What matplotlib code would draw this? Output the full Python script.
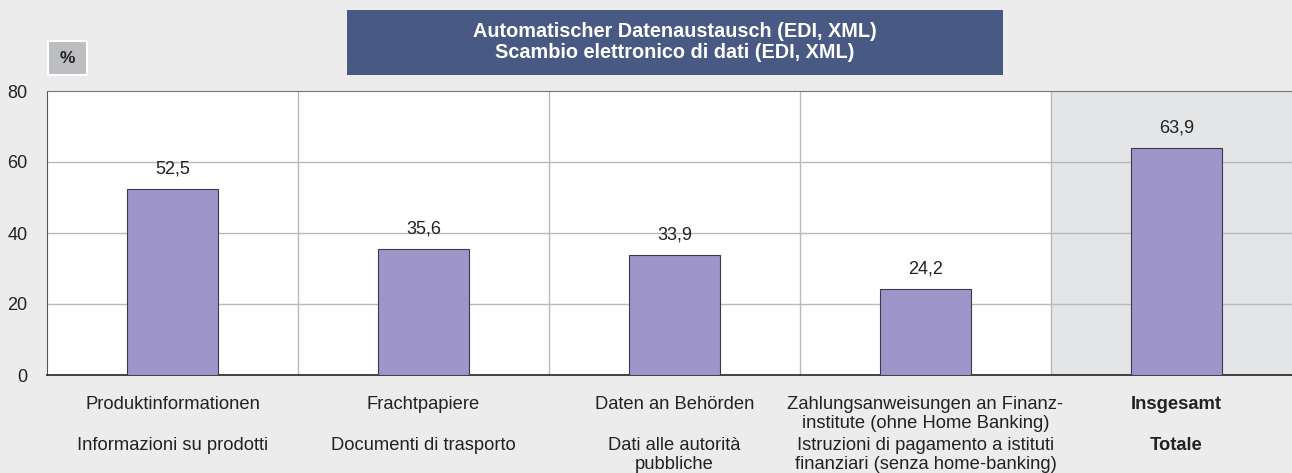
import matplotlib
matplotlib.use("Agg")
import matplotlib.pyplot as plt
from matplotlib.patches import Rectangle
from matplotlib.transforms import blended_transform_factory

plt.rcParams['font.family'] = ['Liberation Sans', 'DejaVu Sans']

labels_de = ["Produktinformationen", "Frachtpapiere", "Daten an Behörden",
             "Zahlungsanweisungen an Finanz-\ninstitute (ohne Home Banking)", "Insgesamt"]
labels_it = ["Informazioni su prodotti", "Documenti di trasporto", "Dati alle autorità\npubbliche",
             "Istruzioni di pagamento a istituti\nfinanziari (senza home-banking)", "Totale"]
values = [52.5, 35.6, 33.9, 24.2, 63.9]
yticks = [0, 20, 40, 60, 80]
title = "Automatischer Datenaustausch (EDI, XML)\nScambio elettronico di dati (EDI, XML)"

W, H = 1292, 473
bg = "#ebeceb"
fig = plt.figure(figsize=(W / 100, H / 100), dpi=100, facecolor=bg)

left, right, top, bottom = 47, 1302, 91, 375
ax = fig.add_axes([left / W, 1 - bottom / H, (right - left) / W, (bottom - top) / H])
ax.set_facecolor("white")
n = len(values)
ax.set_xlim(-0.5, n - 0.5)
ax.set_ylim(0, 80)

# shaded total section
ax.axvspan(n - 1.5, n - 0.5, color="#e4e5e7", zorder=0, lw=0)

for y in yticks[1:-1]:
    ax.axhline(y, color="#b9b9b9", lw=1, zorder=1)
for i in range(1, n):
    ax.axvline(i - 0.5, color="#b9b9b9", lw=1, zorder=1)

x = list(range(n))
ax.bar(x, values, width=0.36, color="#9e96c9", edgecolor="#3a3a4a", linewidth=0.8, zorder=3)
for xi, v in zip(x, values):
    ax.text(xi, v + 3.2, f"{v:.1f}".replace(".", ","), ha="center", va="bottom",
            fontsize=13, color="#222222", zorder=4)

ax.set_yticks(yticks)
ax.set_yticklabels([str(t) for t in yticks], fontsize=13, color="#222222")
ax.tick_params(axis="y", length=0, pad=14)
ax.set_xticks([])
ax.spines["right"].set_visible(False)
ax.spines["top"].set_color("#777777")
ax.spines["left"].set_color("#555555")
ax.spines["bottom"].set_color("#222222")
ax.spines["bottom"].set_linewidth(1.2)

tr = blended_transform_factory(ax.transData, fig.transFigure)
fs = 13.2
for i in range(n):
    w = "bold" if i == n - 1 else "normal"
    ax.text(i, 1 - 396 / H, labels_de[i], transform=tr, ha="center", va="top",
            fontsize=fs, color="#222222", fontweight=w, linespacing=1.17)
    ax.text(i, 1 - 437 / H, labels_it[i], transform=tr, ha="center", va="top",
            fontsize=fs, color="#222222", fontweight=w, linespacing=1.17)

# title box
fig.patches.append(Rectangle((347 / W, 1 - 75 / H), (1003 - 347) / W, 65 / H,
                             transform=fig.transFigure, facecolor="#485a84", edgecolor="none"))
fig.text((347 + 1003) / 2 / W, 1 - 42 / H, title, ha="center", va="center",
         fontsize=14.3, fontweight="bold", color="white", linespacing=1.12)

# % box
fig.patches.append(Rectangle((48 / W, 1 - 75 / H), 39 / W, 34 / H,
                             transform=fig.transFigure, facecolor="#bdbec2",
                             edgecolor="white", linewidth=1.5))
fig.text(67.5 / W, 1 - 58 / H, "%", ha="center", va="center", fontsize=12.5,
         fontweight="bold", color="#222222")

fig.savefig("out.png", dpi=100, facecolor=bg)
